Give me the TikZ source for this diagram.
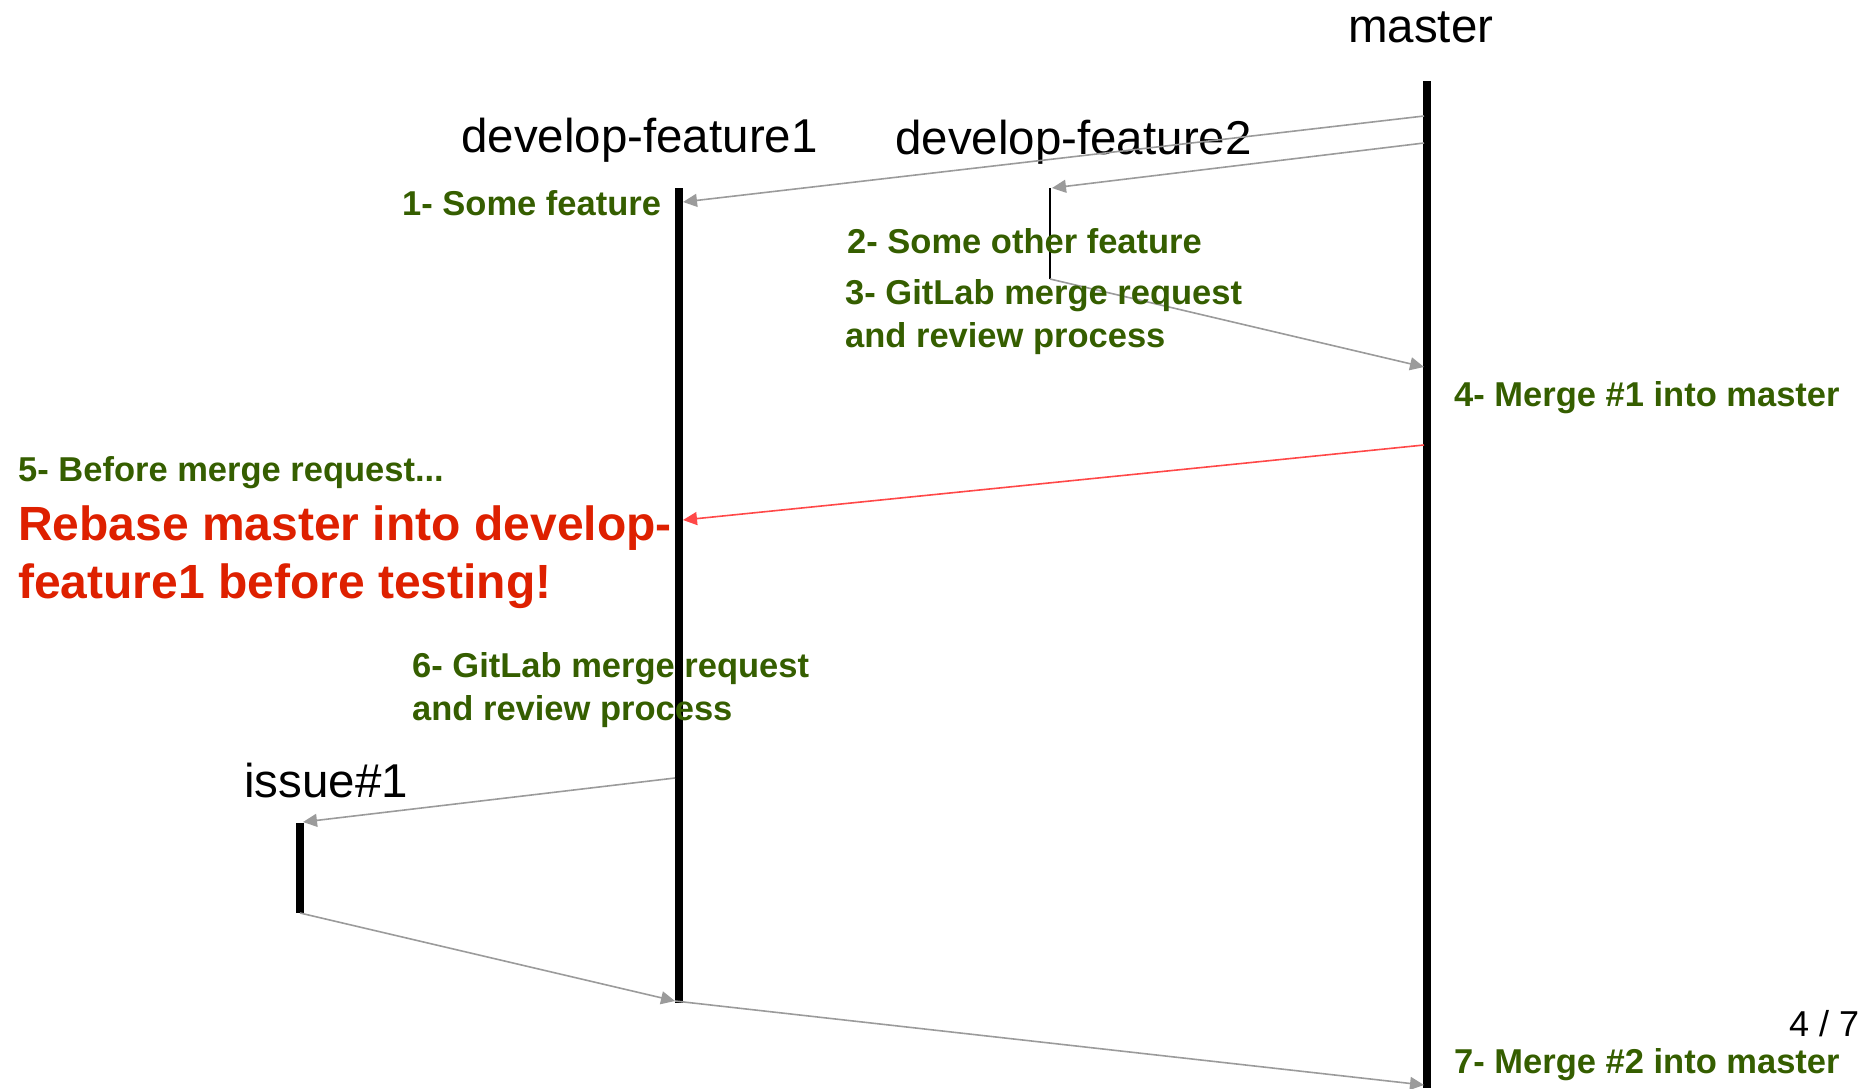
\documentclass[tikz,border=0pt]{standalone}
\usepackage{fontspec}
\setmainfont{Liberation Sans}
\usetikzlibrary{arrows.meta}
\definecolor{stepgreen}{RGB}{53,94,0}
\definecolor{warnred}{RGB}{222,32,0}
\definecolor{arrred}{RGB}{255,72,72}
\definecolor{arrgray}{RGB}{155,155,155}
\tikzset{
  branch/.style={line width=7.5pt},
  thinbranch/.style={line width=1.8pt},
  flow/.style={draw=arrgray, line width=1.6pt, -{Triangle[length=14pt,width=13pt]}},
  redflow/.style={draw=arrred, line width=1.6pt, -{Triangle[length=14pt,width=13pt]}},
  blabel/.style={anchor=base west, inner sep=0pt, font=\fontsize{47.5}{55}\selectfont},
  gstep/.style={anchor=base west, inner sep=0pt, text=stepgreen, font=\fontsize{34.5}{43}\selectfont\bfseries, align=left},
  rwarn/.style={anchor=base west, inner sep=0pt, text=warnred, font=\fontsize{48}{58}\selectfont\bfseries, align=left},
}
\begin{document}
\begin{tikzpicture}[x=1pt,y=-1pt]
\useasboundingbox (0,0) rectangle (1876,1088);
% branch lines
\coordinate (mTop) at (1427,81);
\coordinate (mBot) at (1427,1088);
\coordinate (f1Top) at (679,188);
\coordinate (f1Bot) at (679,1003);
\coordinate (f2Top) at (1050,188);
\coordinate (f2Bot) at (1050,279);
\coordinate (iTop) at (300,823);
\coordinate (iBot) at (300,913);
\draw[branch] (mTop) -- (mBot);
\draw[branch] (f1Top) -- (f1Bot);
\draw[thinbranch] (f2Top) -- (f2Bot);
\draw[branch] (iTop) -- (iBot);
% labels
\node[blabel] (lmaster) at (1348,42) {master};
\node[blabel] (lf1) at (461,152) {develop-feature1};
\node[blabel] (lf2) at (895,154) {develop-feature2};
\node[blabel] (li) at (244,797) {issue\#1};
% connector end points
\coordinate (m1) at (1424,116);
\coordinate (f1a) at (683,202);
\coordinate (m2) at (1424,143);
\coordinate (f2a) at (1052,188);
\coordinate (m3) at (1424,367);
\coordinate (m4) at (1424,445);
\coordinate (f1b) at (683,520);
\coordinate (f1c) at (675,778);
\coordinate (i1) at (303,822);
\coordinate (f1d) at (675,1001);
\coordinate (m5) at (1424,1085);
\draw[flow] (m1) -- (f1a);
\draw[flow] (m2) -- (f2a);
\draw[flow] (f2Bot) -- (m3);
\draw[redflow] (m4) -- (f1b);
\draw[flow] (f1c) -- (i1);
\draw[flow] (iBot) -- (f1d);
\draw[flow] (f1d) -- (m5);
% step texts
\node[gstep] (s1) at (402,215) {1- Some feature};
\node[gstep] (s2) at (847,253) {2- Some other feature};
\node[gstep] (s3) at (845,347) {3- GitLab merge request\\and review process};
\node[gstep] (s4) at (1454,406) {4- Merge \#1 into master};
\node[gstep] (s5) at (18,481) {5- Before merge request...};
\node[rwarn] (w5) at (18,598) {Rebase master into develop-\\feature1 before testing!};
\node[gstep] (s6) at (412,720) {6- GitLab merge request\\and review process};
\node[gstep] (s7) at (1454,1073) {7- Merge \#2 into master};
\node[anchor=base west, inner sep=0pt, font=\fontsize{36}{42}\selectfont] (pg) at (1789,1036) {4 / 7};
\end{tikzpicture}
\end{document}
